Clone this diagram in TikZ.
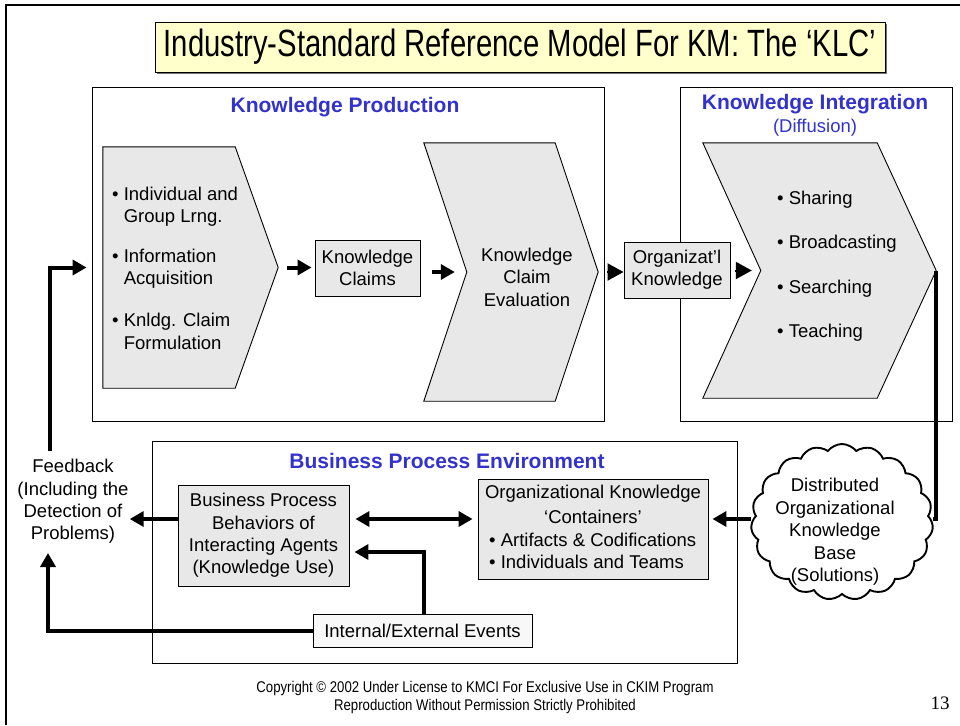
\documentclass[tikz,border=0pt]{standalone}
\usepackage{fontspec}
\setmainfont{Liberation Sans}
\newfontfamily\timesf{Liberation Serif}
\usetikzlibrary{arrows.meta,shapes.symbols,shadows,calc}
\definecolor{kblue}{RGB}{51,51,204}
\definecolor{kgray}{RGB}{232,232,232}
\definecolor{kev}{RGB}{248,248,248}
\definecolor{kyellow}{RGB}{255,255,204}
\newcommand\bodyf{\fontsize{18.5}{22.4}\selectfont}
\newcommand\headf{\fontsize{21}{24}\selectfont\bfseries}
\begin{document}
\begin{tikzpicture}[x=1pt,y=-1pt,
  shad/.style={drop shadow={shadow xshift=1.3pt,shadow yshift=-1.3pt,fill=black!40,opacity=1}},
  bigbox/.style={draw,line width=0.9pt,fill=white,shad,inner sep=0pt},
  graybox/.style={draw,line width=0.9pt,fill=kgray,shad,inner sep=0pt,align=center,font=\bodyf},
  chev/.style={draw,line width=0.9pt,fill=kgray},
  holder/.style={inner sep=0pt,draw=none},
  txt/.style={inner sep=0pt,align=center,font=\bodyf},
  ltxt/.style={inner sep=0pt,align=left,font=\bodyf,anchor=west},
  head/.style={inner sep=0pt,font=\headf,text=kblue},
  conn/.style={line width=4pt,-{Triangle[length=14pt,width=15pt]}},
  dconn/.style={line width=4pt,{Triangle[length=14pt,width=15pt]}-{Triangle[length=14pt,width=15pt]}},
  tri/.style={line width=2pt,-{Triangle[length=16pt,width=17pt]}},
  plain/.style={line width=4pt}
]
\useasboundingbox (0,0) rectangle (960,725);
% outer frame
\draw[line width=1.2pt] (960,5) -- (6,5) -- (6,725);

% title
\node[draw,line width=0.9pt,fill=kyellow,drop shadow={shadow xshift=1.8pt,shadow yshift=-1.8pt,fill=black!55,opacity=1},minimum width=730pt,minimum height=50pt,inner sep=0pt] (title) at (520,47)
  {\scalebox{0.77}[1]{\fontsize{38}{40}\selectfont Industry-Standard Reference Model For KM: The ‘KLC’}};

% big frames
\node[bigbox,minimum width=512pt,minimum height=334pt] (kp) at (348,254) {};
\node[bigbox,minimum width=272pt,minimum height=334pt] (ki) at (816,254) {};
\node[bigbox,minimum width=585pt,minimum height=222pt] (bpe) at (444.5,552) {};

\node[head] (kpt) at (345,107) {Knowledge Production};
\node[head] (kit) at (815,104) {Knowledge Integration};
\node[inner sep=0pt,font=\bodyf,text=kblue] (kid) at (815,128) {(Diffusion)};
\node[head] (bpet) at (447,461) {Business Process Environment};

% chevron 1
\node[holder,minimum width=175pt,minimum height=241pt] (ch1) at (190.5,267.5) {};
\draw[chev] (ch1.north west) -- ($(ch1.north east)+(-43,0)$) -- (ch1.east)
  -- ($(ch1.south east)+(-43,0)$) -- (ch1.south west) -- cycle;
\node[ltxt] (i1) at (112,207) {\textbullet\ Individual and\\\phantom{\textbullet\ }Group Lrng.};
\node[ltxt] (i2) at (112,269) {\textbullet\ Information\\\phantom{\textbullet\ }Acquisition};
\node[ltxt] (i3) at (112,331.5) {\textbullet\ Knldg. Claim\\\phantom{\textbullet\ }Formulation};

% knowledge claims
\node[graybox,minimum width=105pt,minimum height=56pt] (kc) at (367.5,268) {Knowledge\\Claims};

% chevron 2
\node[holder,minimum width=174pt,minimum height=258pt] (ch2) at (511,272) {};
\draw[chev] (ch2.north west) -- ($(ch2.north east)+(-43,0)$) -- (ch2.east)
  -- ($(ch2.south east)+(-43,0)$) -- (ch2.south west) -- ($(ch2.west)+(43,0)$) -- cycle;
\coordinate (ch2n) at ($(ch2.west)+(43,0)$);
\node[txt] (ch2t) at (527,277) {Knowledge\\Claim\\Evaluation};

% organizational knowledge
\node[graybox,minimum width=106pt,minimum height=56pt] (org) at (677,270) {Organizat’l\\Knowledge};

% chevron 3
\node[holder,minimum width=233pt,minimum height=255pt] (ch3) at (819.5,270.5) {};
\draw[chev] (ch3.north west) -- ($(ch3.north east)+(-59,0)$) -- (ch3.east)
  -- ($(ch3.south east)+(-59,0)$) -- (ch3.south west) -- ($(ch3.west)+(58,0)$) -- cycle;
\coordinate (ch3n) at ($(ch3.west)+(58,0)$);
\node[ltxt] (s1) at (777,200) {\textbullet\ Sharing};
\node[ltxt] (s2) at (777,244) {\textbullet\ Broadcasting};
\node[ltxt] (s3) at (777,289) {\textbullet\ Searching};
\node[ltxt] (s4) at (777,333) {\textbullet\ Teaching};

% cloud
\node[cloud,cloud puffs=19,cloud puff arc=105,aspect=1.15,draw,line width=1.9pt,fill=white,
  minimum width=182pt,minimum height=156pt,inner sep=0pt] (cloud) at (842,522) {};
\node[txt] (cloudt) at (835,532) {Distributed\\Organizational\\Knowledge\\Base\\(Solutions)};

% bottom boxes
\node[graybox,minimum width=171pt,minimum height=101pt] (bp) at (263.5,535.5)
  {Business Process\\Behaviors of\\Interacting Agents\\(Knowledge Use)};
\node[graybox,minimum width=230pt,minimum height=100pt] (cont) at (593,529) {};
\node[txt] (c1) at (593,494) {Organizational Knowledge};
\node[txt] (c2) at (593,517) {‘Containers’};
\node[ltxt] (c3) at (489,540) {\textbullet\ Artifacts \& Codifications};
\node[ltxt] (c4) at (489,562) {\textbullet\ Individuals and Teams};
\node[draw,line width=0.9pt,fill=kev,shad,inner sep=0pt,font=\bodyf,minimum width=219pt,minimum height=33pt] (ev) at (422.5,630.5)
  {Internal/External Events};

\node[txt] (fb) at (73,501.5) {Feedback\\(Including the\\Detection of\\Problems)};

% helper coordinates
\coordinate (yA) at (0,519);
\coordinate (yB) at (0,552);
\coordinate (fbtop) at (50,451);
\coordinate (fbbot) at (48,553);
\coordinate (fbin) at ($(kp.west |- ch1.west)+(-5,0)$);

% connectors
\draw[conn] (fbtop) |- (fbin);
\draw[conn,shorten <=9pt,shorten >=3pt] (ch1.east) -- (kc.west |- ch1.east);
\draw[conn,shorten <=12pt,shorten >=12pt] (kc.east |- ch2n) -- (ch2n);
\draw[tri,shorten <=9pt] (ch2.east) -- (org.west |- ch2.east);
\draw[tri,shorten <=5pt,shorten >=9pt] (org.east |- ch3n) -- (ch3n);
\draw[plain] (ch3.east) |- (cloud.east |- yA);
\draw[conn,shorten >=4pt] (cloud.west |- yA) -- (cont.east |- yA);
\draw[dconn,shorten <=6pt,shorten >=5pt] (bp.east |- yA) -- (cont.west |- yA);
\draw[conn,shorten >=5pt] ([xshift=1.5pt]ev.north) |- (bp.east |- yB);
\draw[conn] (bp.west |- yA) -- ([xshift=1pt]fb.east |- yA);
\draw[conn] (ev.west) -| (fbbot);

% footer
\node[inner sep=0pt,align=center,font=\fontsize{15.5}{18}\selectfont] (copy) at (485,697)
  {\scalebox{0.85}[1]{Copyright © 2002 Under License to KMCI For Exclusive Use in CKIM Program}\\
   \scalebox{0.85}[1]{Reproduction Without Permission Strictly Prohibited}};
\node[inner sep=0pt,font=\timesf\fontsize{19}{22}\selectfont] (pg) at (940,703) {13};
\end{tikzpicture}
\end{document}
